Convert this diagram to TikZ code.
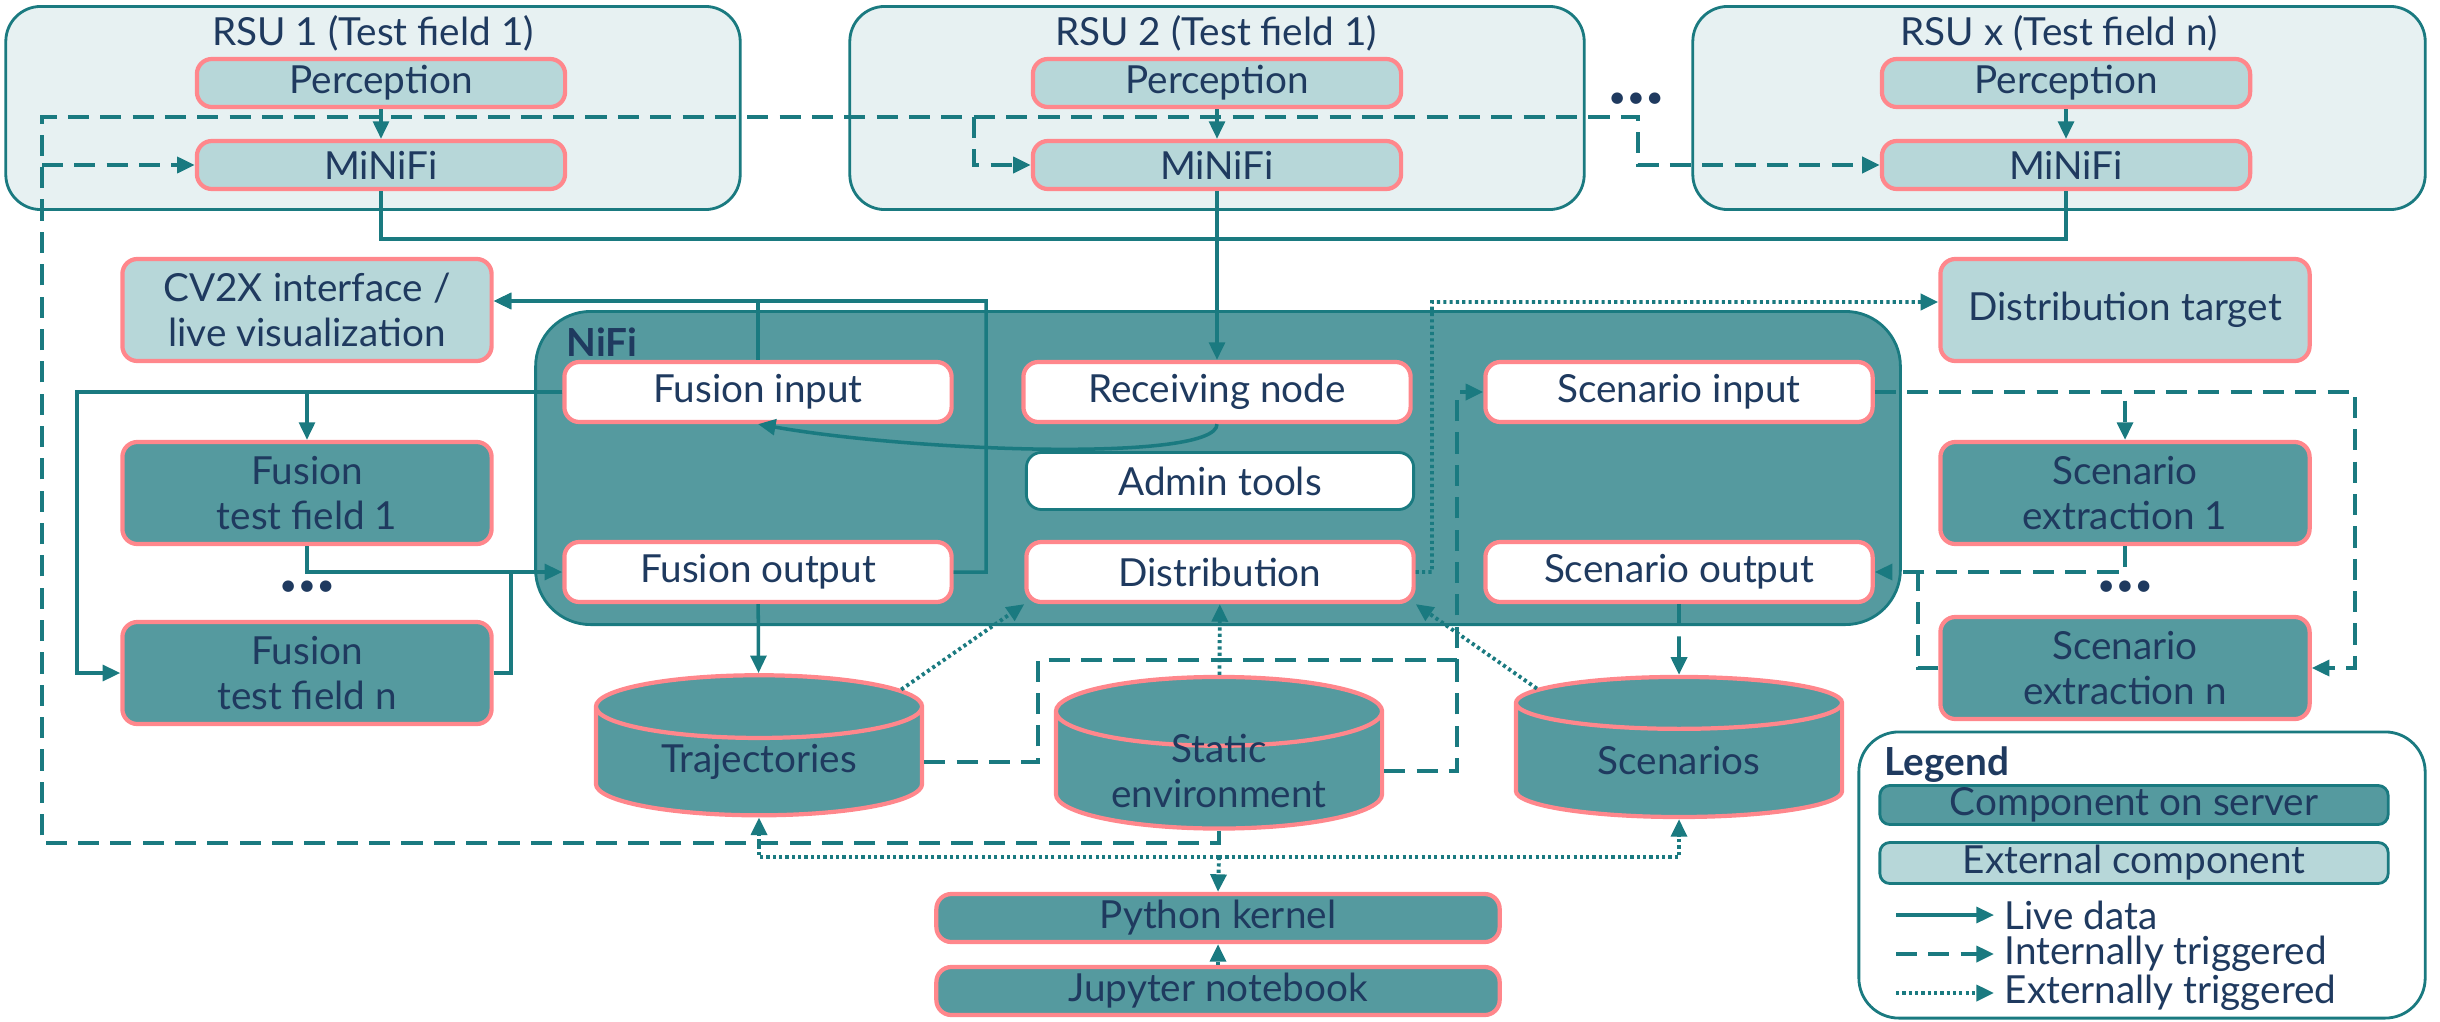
\documentclass[tikz,border=0pt]{standalone}
\usepackage{fontspec}
\setmainfont{Lato}
\usetikzlibrary{arrows.meta, positioning, shapes.geometric}
\definecolor{tealline}{HTML}{1A7A80}
\definecolor{tealfill}{HTML}{559A9F}
\definecolor{extfill}{HTML}{B7D7D9}
\definecolor{rsufill}{HTML}{E7F1F2}
\definecolor{pinkline}{HTML}{FF878C}
\definecolor{navy}{HTML}{1F3A5F}

\begin{document}
\begin{tikzpicture}[
	x=0.01cm, y=-0.01cm,
	font=\fontsize{11}{13}\selectfont,
	text=navy,
	rsu/.style={draw=tealline, line width=0.8pt, fill=rsufill, rounded corners=0.35cm, minimum width=7.34cm, minimum height=2.03cm},
	title/.style={inner sep=0pt},
	ext/.style={draw=pinkline, line width=1.2pt, fill=extfill, rounded corners=0.15cm, align=center, inner sep=0pt},
	srv/.style={ext, fill=tealfill},
	proc/.style={ext, fill=white, minimum width=3.87cm, minimum height=0.6cm},
	small/.style={minimum width=3.68cm, minimum height=0.48cm},
	wide/.style={minimum width=3.69cm, minimum height=1.02cm},
	db/.style={cylinder, shape border rotate=90, aspect=0.32, draw=pinkline, line width=1.2pt, fill=tealfill, minimum width=3.26cm, minimum height=1.4cm, align=center, inner sep=0pt},
	dots/.style={font=\fontsize{7.5}{9}\selectfont\bfseries, inner sep=0pt},
	live/.style={draw=tealline, line width=1pt, -{Triangle[length=5pt,width=4.5pt]}},
	intl/.style={live, line width=1.1pt, dash pattern=on 6pt off 3.2pt},
	extl/.style={live, line width=1.1pt, dash pattern=on 0.9pt off 0.9pt}
	]
	\useasboundingbox (0,0) rectangle (2440,1021);

	% road side units
	\node[rsu] (rsu1) at (373,108) {};
	\node[rsu] (rsu2) at (1217,108) {};
	\node[rsu, minimum width=7.32cm] (rsux) at (2059,108) {};
	\node[title] (rsu1t) at (373,33) {RSU 1 (Test field 1)};
	\node[title] (rsu2t) at (1216,33) {RSU 2 (Test field 1)};
	\node[title] (rsuxt) at (2059,33) {RSU x (Test field n)};
	\node[ext, small] (perc1) at (381,83) {Perception};
	\node[ext, small] (perc2) at (1217,83) {Perception};
	\node[ext, small] (percx) at (2066,83) {Perception};
	\node[ext, small] (mini1) at (381,165) {MiNiFi};
	\node[ext, small] (mini2) at (1217,165) {MiNiFi};
	\node[ext, small] (minix) at (2066,165) {MiNiFi};
	\node[dots] (rsudots) at (1636,100) {•\kern1pt•\kern1pt•};

	% external targets
	\node[ext, wide] (cv2x) at (307,310) {CV2X interface /\\live visualization};
	\node[ext, wide] (dtgt) at (2125,310) {Distribution target};

	% NiFi
	\node[draw=tealline, line width=0.8pt, fill=tealfill, rounded corners=0.55cm, minimum width=13.64cm, minimum height=3.13cm] (nifi) at (1218,468) {};
	\node[title, anchor=west, font=\fontsize{11}{13}\selectfont\bfseries] (nifit) at (566,342) {NiFi};
	\node[proc] (fin) at (758,392) {Fusion input};
	\node[proc] (fout) at (758,572) {Fusion output};
	\node[proc] (recv) at (1217,392) {Receiving node};
	\node[proc, draw=tealline, line width=0.8pt, minimum height=0.57cm] (admin) at (1220,481) {Admin tools};
	\node[proc] (dist) at (1220,572) {Distribution};
	\node[proc] (sin) at (1679,392) {Scenario input};
	\node[proc] (sout) at (1679,572) {Scenario output};

	% fusion and scenario workers
	\node[srv, wide] (tf1) at (307,493) {Fusion\\test field 1};
	\node[srv, wide] (tfn) at (307,673) {Fusion\\test field n};
	\node[dots] (tfdots) at (307,588) {•\kern1pt•\kern1pt•};
	\node[srv, wide] (sx1) at (2125,493) {Scenario\\extraction 1};
	\node[srv, wide] (sxn) at (2125,668) {Scenario\\extraction n};
	\node[dots] (sxdots) at (2125,588) {•\kern1pt•\kern1pt•};

	% data stores
	\node[db] (traj) at (759,762) {Trajectories};
	\node[db, inner ysep=-4pt] (stat) at (1219,771) {Static\\environment};
	\node[db] (scen) at (1679,761) {Scenarios};

	% notebook
	\node[srv, minimum width=5.63cm, minimum height=0.48cm] (kern) at (1218,918) {Python kernel};
	\node[srv, minimum width=5.63cm, minimum height=0.48cm] (jup) at (1218,991) {Jupyter notebook};

	% helper points
	\coordinate (bus) at (1217,239);
	\coordinate (cvx) at (986,301);
	\coordinate (fl) at (77,392);
	\coordinate (fj) at (511,572);
	\coordinate (sl) at (42,843);
	\coordinate (st) at (42,117);
	\coordinate (s2) at (974,117);
	\coordinate (sr) at (1638,117);
	\coordinate (tj) at (1038,660);
	\coordinate (sj) at (1457,660);
	\coordinate (se) at (2355,392);
	\coordinate (sk) at (1918,572);
	\coordinate (dc) at (1432,302);
	\coordinate (kb) at (1219,857);

	% live data
	\draw[live] (perc1) -- (mini1);
	\draw[live] (perc2) -- (mini2);
	\draw[live] (percx) -- (minix);
	\draw[live, -] (mini1.south) |- (bus);
	\draw[live, -] (minix.south) |- (bus);
	\draw[live] (mini2.south) -- (recv.north);
	\draw[live] (fin.north) |- ([yshift=0.09cm]cv2x.east);
	\draw[live] (fout.east) -| (cvx) -- ([yshift=0.09cm]cv2x.east);
	\draw[live] (recv.south) .. controls +(0,38) and +(160,28) .. (fin.south);
	\draw[live] (fin.west) -| (tf1.north);
	\draw[live] (fin.west) -- (fl) |- (tfn.west);
	\draw[live] (tf1.south) |- (fout.west);
	\draw[live, -] (tfn.east) -| (fj);
	\draw[live] (fout) -- (traj);

	% internally triggered
	\draw[intl] (stat.south) |- (sl) -- (st) -- (sr) |- (minix.west);
	\draw[intl] (st |- mini1.west) -- (mini1.west);
	\draw[intl] (s2) |- (mini2.west);
	\draw[intl] (traj.east) -| (tj) -- (sj) |- (sin.west);
	\draw[intl, -] (stat.east) -| (sj);
	\draw[intl] (sin.east) -- (se) |- (sxn.east);
	\draw[intl] (sin.east) -| (sx1.north);
	\draw[intl] (sx1.south) |- (sout.east);
	\draw[intl, -] (sxn.west) -| (sk);
	\draw[intl] (sout) -- (scen);

	% externally triggered
	\draw[extl] (dist.east) -| (dc) -- ([yshift=0.08cm]dtgt.west);
	\draw[extl] (traj.27) -- (dist.south west);
	\draw[extl] (stat) -- (dist);
	\draw[extl] (scen.153) -- (dist.south east);
	\draw[extl] (kb) -- (kern.north);
	\draw[extl] (kb) -| (traj.south);
	\draw[extl] (kb) -| (scen.south);
	\draw[extl] (jup) -- (kern);

	% legend
	\node[draw=tealline, line width=0.8pt, fill=white, rounded corners=0.4cm, minimum width=5.66cm, minimum height=2.86cm] (legend) at (2142,875) {};
	\node[title, anchor=west, font=\fontsize{11}{13}\selectfont\bfseries] (legendt) at (1884,765) {Legend};
	\node[srv, draw=tealline, line width=0.8pt, rounded corners=0.1cm, minimum width=5.08cm, minimum height=0.39cm] (lgsrv) at (2134,805) {Component on server};
	\node[ext, draw=tealline, line width=0.8pt, rounded corners=0.1cm, minimum width=5.08cm, minimum height=0.41cm] (lgext) at (2134,863) {External component};
	\node[title, anchor=west, inner sep=0.1cm] (lglive) at (1994,915) {Live data};
	\node[title, anchor=west, inner sep=0.1cm] (lgintl) at (1994,954) {Internally triggered};
	\node[title, anchor=west, inner sep=0.1cm] (lgextl) at (1994,993) {Externally triggered};
	\draw[live] (1896,915) -- (lglive.west);
	\draw[intl] (1896,954) -- (lgintl.west);
	\draw[extl] (1896,993) -- (lgextl.west);
\end{tikzpicture}
\end{document}
